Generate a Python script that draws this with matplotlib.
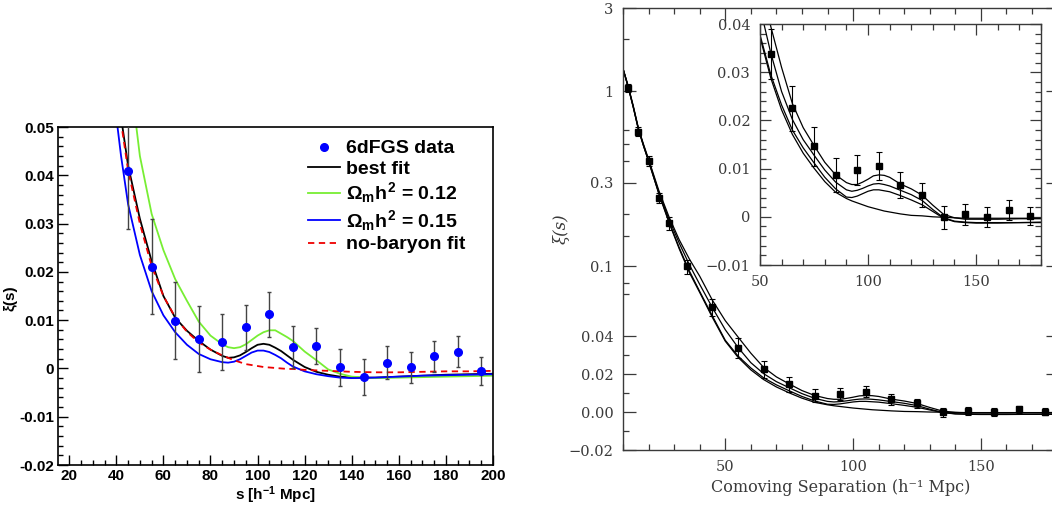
import numpy as np
import matplotlib
matplotlib.use("Agg")
import matplotlib.pyplot as plt
from matplotlib.ticker import FixedLocator, MultipleLocator, NullFormatter
from matplotlib.lines import Line2D

plt.rcParams['mathtext.fontset'] = 'custom'
plt.rcParams['mathtext.rm'] = 'Liberation Sans:bold'
plt.rcParams['mathtext.it'] = 'Liberation Sans:bold'
plt.rcParams['mathtext.bf'] = 'Liberation Sans:bold'

# ---------- left panel: 6dFGS ----------
s_6df = [45, 55, 65, 75, 85, 95, 105, 115, 125, 135, 145, 155, 165, 175, 185, 195]
xi_6df = [0.0408, 0.0211, 0.0099, 0.0061, 0.0055, 0.0085, 0.0112, 0.0044,
          0.0046, 0.0002, -0.0017, 0.0012, 0.0002, 0.0025, 0.0035, -0.0005]
err_6df = [0.012, 0.0098, 0.0079, 0.0068, 0.0058, 0.0047, 0.0047, 0.0043,
           0.0037, 0.0039, 0.0037, 0.0034, 0.0032, 0.0032, 0.0032, 0.0029]

s_fit = [40, 42, 45, 50, 55, 60, 65, 70, 75, 80, 85, 87.5, 90, 92.5, 95, 97.5,
         100, 102.5, 105, 107.5, 110, 112.5, 115, 120, 125, 130, 135, 140, 150,
         160, 170, 180, 190, 200]
best_fit = [0.060, 0.052, 0.042, 0.031, 0.0222, 0.0150, 0.0105, 0.0078, 0.0057,
            0.0039, 0.0026, 0.0022, 0.0023, 0.0027, 0.0034, 0.0042, 0.0049,
            0.0051, 0.0049, 0.0043, 0.0036, 0.0027, 0.0018, 0.0003, -0.0007,
            -0.0013, -0.0017, -0.0019, -0.0019, -0.0017, -0.0015, -0.0013,
            -0.0012, -0.0011]
fit_012 = [0.090, 0.080, 0.064, 0.044, 0.032, 0.0245, 0.0185, 0.0140, 0.0097,
           0.0068, 0.0050, 0.0044, 0.0042, 0.0044, 0.0050, 0.0059, 0.0068,
           0.0075, 0.0079, 0.0079, 0.0072, 0.0065, 0.0057, 0.0035, 0.0017,
           -0.0002, -0.0011, -0.0017, -0.0020, -0.0019, -0.0018, -0.0017,
           -0.0016, -0.0015]
fit_015 = [0.052, 0.044, 0.034, 0.0235, 0.0160, 0.0110, 0.0075, 0.0049, 0.0030,
           0.0019, 0.0013, 0.0012, 0.0014, 0.0019, 0.0026, 0.0033, 0.0037,
           0.0037, 0.0034, 0.0028, 0.0021, 0.0012, 0.0004, -0.0006, -0.0012,
           -0.0016, -0.0019, -0.0020, -0.0019, -0.0017, -0.0015, -0.0014,
           -0.0013, -0.0012]
no_baryon = [0.058, 0.051, 0.041, 0.030, 0.0212, 0.0150, 0.0106, 0.0076, 0.0054,
             0.0039, 0.0027, 0.0022, 0.0017, 0.0013, 0.0009, 0.0007, 0.0005,
             0.0003, 0.0002, 0.0001, 0.0000, -0.0001, -0.0001, -0.0003, -0.0004,
             -0.0005, -0.0006, -0.0007, -0.0008, -0.0008, -0.0007, -0.0006,
             -0.0006, -0.0005]

# ---------- right panel: SDSS LRG ----------
s_lrg = [12, 16, 20, 24, 28, 35, 45, 55, 65, 75, 85, 95, 105, 115, 125, 135,
         145, 155, 165, 175]
xi_lrg = [1.05, 0.59, 0.40, 0.247, 0.176, 0.100, 0.0587, 0.0337, 0.0225, 0.0146,
          0.0086, 0.0097, 0.0106, 0.0066, 0.0046, -0.0001, 0.0005, 0.0, 0.0014,
          0.0001]
err_lrg = [0.056, 0.033, 0.026, 0.017, 0.015, 0.009, 0.0064, 0.0052, 0.0046,
           0.004, 0.0035, 0.0032, 0.0029, 0.0028, 0.0025, 0.0024, 0.0022,
           0.0021, 0.002, 0.0019]

s_mod = [10, 12, 14, 16, 18, 20, 24, 28, 32, 36, 40, 45, 50, 55, 60, 65, 70, 75,
         80, 85, 90, 92.5, 95, 97.5, 100, 102.5, 105, 107.5, 110, 115, 120, 125,
         130, 135, 140, 145, 150, 160, 170, 180]
mod_a = [1.35, 1.08, 0.83, 0.62, 0.50, 0.41, 0.272, 0.192, 0.142, 0.110, 0.088,
         0.064, 0.049, 0.0395, 0.031, 0.0235, 0.0185, 0.0148, 0.0113, 0.0087,
         0.0071, 0.0067, 0.0067, 0.0072, 0.0078, 0.0085, 0.0087, 0.0086, 0.0082,
         0.0068, 0.0058, 0.0045, 0.0024, 0.0005, -0.0002, -0.0005, -0.0005,
         -0.0005, -0.0004, -0.0004]
mod_b = [1.35, 1.07, 0.82, 0.615, 0.495, 0.405, 0.266, 0.186, 0.136, 0.102, 0.079,
         0.058, 0.0435, 0.034, 0.026, 0.0202, 0.016, 0.0128, 0.0097, 0.0072,
         0.0056, 0.0053, 0.0055, 0.0059, 0.0064, 0.0068, 0.0069, 0.0067, 0.0064,
         0.0055, 0.0046, 0.0034, 0.0015, -0.0002, -0.0009, -0.0011, -0.0012,
         -0.0012, -0.0012, -0.0011]
mod_c = [1.35, 1.065, 0.815, 0.61, 0.49, 0.40, 0.262, 0.18, 0.128, 0.094, 0.072,
         0.052, 0.0378, 0.0295, 0.0232, 0.018, 0.0143, 0.0112, 0.0082, 0.0058,
         0.0041, 0.0040, 0.0043, 0.0048, 0.0053, 0.0056, 0.0056, 0.0054, 0.0052,
         0.0044, 0.0035, 0.0025, 0.0011, -0.0003, -0.001, -0.0012, -0.0013,
         -0.0013, -0.0012, -0.0012]
mod_d = [1.35, 1.065, 0.815, 0.61, 0.49, 0.40, 0.261, 0.178, 0.126, 0.092, 0.071,
         0.051, 0.0373, 0.0288, 0.0222, 0.0171, 0.0132, 0.0101, 0.0073, 0.0051,
         0.0038, 0.0033, 0.0029, 0.0025, 0.0021, 0.0018, 0.0015, 0.0012, 0.0010,
         0.0006, 0.0003, 0.0002, 0.0, -0.0001, -0.0002, -0.0003, -0.0003,
         -0.0003, -0.0003, -0.0003]

main_yticks = [-0.02, 0.0, 0.02, 0.04, 0.1, 0.3, 1, 3]
main_ylabels = ['\u22120.02', '0.00', '0.02', '0.04', '0.1', '0.3', '1', '3']
main_yminor = [-0.01, 0.01, 0.03, 0.07, 0.08, 0.15, 0.2, 0.4, 0.5, 0.6, 2]
inset_ylabels = ['\u22120.01', '0', '0.01', '0.02', '0.03', '0.04']


# y axis: linear below 0.04, logarithmic above
def fwd(y):
    y = np.asarray(y, dtype=float)
    return np.where(y < 0.04, y / 0.04, 1 + np.log(np.maximum(y, 0.04) / 0.04))


def inv(t):
    t = np.asarray(t, dtype=float)
    return np.where(t < 1, 0.04 * t, 0.04 * np.exp(np.minimum(t, 50) - 1))


fig = plt.figure(figsize=(10.52, 5.07), dpi=100)

# ==============================
# left panel
# ==============================
ax = fig.add_axes([0.0551, 0.0828, 0.4135, 0.6667])
ax.plot(s_fit, best_fit, color='black', lw=1.3)
ax.plot(s_fit, fit_012, color='#77ee33', lw=1.3)
ax.plot(s_fit, fit_015, color='#0000ff', lw=1.3)
ax.plot(s_fit, no_baryon, color='#ee0000', lw=1.3, ls=(0, (3.5, 2.5)))
ax.errorbar(s_6df, xi_6df, yerr=err_6df, fmt='o', color='#0000ff', ms=5.5,
            ecolor='#444444', elinewidth=1.0, capsize=1.5, capthick=1.0, zorder=5)
ax.set_xlim(15.2, 200)
ax.set_ylim(-0.02, 0.05)
ax.xaxis.set_major_locator(MultipleLocator(20))
ax.xaxis.set_minor_locator(MultipleLocator(5))
ax.yaxis.set_minor_locator(MultipleLocator(0.002))
ax.set_yticks([-0.02, -0.01, 0, 0.01, 0.02, 0.03, 0.04, 0.05])
ax.set_yticklabels(['-0.02', '-0.01', '0', '0.01', '0.02', '0.03', '0.04', '0.05'])
ax.tick_params(which='both', direction='in', top=False, right=False,
               labelsize=11, pad=3)
ax.tick_params(which='major', length=7, width=1)
ax.tick_params(which='minor', length=3.5, width=1)
for lab in ax.get_xticklabels() + ax.get_yticklabels():
    lab.set_fontweight('bold')
    lab.set_family('Liberation Sans')
for sp in ax.spines.values():
    sp.set_linewidth(1.2)
ax.set_xlabel('s [h$^{-1}$ Mpc]', fontsize=11, fontweight='bold',
              family='Liberation Sans', labelpad=1)
ax.set_ylabel('\u03be(s)', fontsize=11, fontweight='bold', family='Liberation Sans')
ax.yaxis.set_label_coords(-0.094, 0.494)

handles = [
    Line2D([], [], ls='none', marker='o', color='#0000ff', ms=5.5),
    Line2D([], [], color='black', lw=1.3),
    Line2D([], [], color='#77ee33', lw=1.3),
    Line2D([], [], color='#0000ff', lw=1.3),
    Line2D([], [], color='#ee0000', lw=1.3, ls=(0, (3.5, 2.5))),
]
labels = ['6dFGS data', 'best fit', r'$\Omega_m h^2$ = 0.12',
          r'$\Omega_m h^2$ = 0.15', 'no-baryon fit']
leg = ax.legend(handles, labels, loc='upper left', bbox_to_anchor=(0.574, 0.962),
                frameon=False, handlelength=1.65, handletextpad=0.3,
                labelspacing=0.14, borderpad=0, borderaxespad=0,
                prop={'family': 'Liberation Sans', 'weight': 'bold', 'size': 14})

# ==============================
# right panel
# ==============================
gray = '#3a3a3a'
serif = 'DejaVu Serif'
ax2 = fig.add_axes([0.5922, 0.1124, 0.4131, 0.8718])
ax2.set_yscale('function', functions=(fwd, inv))
for m in (mod_a, mod_b, mod_c, mod_d):
    ax2.plot(s_mod, m, color='black', lw=0.9)
ax2.errorbar(s_lrg, xi_lrg, yerr=err_lrg, fmt='s', color='black', ms=4,
             elinewidth=0.8, capsize=2.5, capthick=0.8, zorder=5)
ax2.set_xlim(10, 180)
ax2.set_ylim(-0.02, 3)
ax2.xaxis.set_major_locator(MultipleLocator(50))
ax2.xaxis.set_minor_locator(MultipleLocator(10))
ax2.yaxis.set_major_locator(FixedLocator(main_yticks))
ax2.yaxis.set_minor_locator(FixedLocator(main_yminor))
ax2.yaxis.set_minor_formatter(NullFormatter())
ax2.set_yticklabels(main_ylabels)
ax2.tick_params(which='both', direction='in', top=True, right=True,
                labelsize=10.5, labelcolor=gray, color=gray, pad=7)
ax2.tick_params(which='major', length=9, width=0.9)
ax2.tick_params(which='minor', length=4.5, width=0.9)
for lab in ax2.get_xticklabels() + ax2.get_yticklabels():
    lab.set_family(serif)
for sp in ax2.spines.values():
    sp.set_linewidth(1.0)
    sp.set_color(gray)
ax2.set_xlabel('Comoving Separation (h\u207b\u00b9 Mpc)', fontsize=11.5,
               family=serif, color=gray, labelpad=4)
ax2.set_ylabel('\u03be(s)', fontsize=12, family=serif, color=gray, style='italic')
ax2.yaxis.set_label_coords(-0.122, 0.50)

# inset
ax3 = fig.add_axes([0.7224, 0.4773, 0.2671, 0.4753])
for m in (mod_a, mod_b, mod_c, mod_d):
    ax3.plot(s_mod, m, color='black', lw=0.9)
ax3.errorbar(s_lrg, xi_lrg, yerr=err_lrg, fmt='s', color='black', ms=4,
             elinewidth=0.8, capsize=2.5, capthick=0.8, zorder=5)
ax3.set_xlim(50, 180)
ax3.set_ylim(-0.01, 0.04)
ax3.xaxis.set_major_locator(MultipleLocator(50))
ax3.xaxis.set_minor_locator(MultipleLocator(10))
ax3.set_yticks([-0.01, 0, 0.01, 0.02, 0.03, 0.04])
ax3.set_yticklabels(inset_ylabels)
ax3.yaxis.set_minor_locator(MultipleLocator(0.002))
ax3.tick_params(which='both', direction='in', top=True, right=True,
                labelsize=10.5, labelcolor=gray, color=gray, pad=7)
ax3.tick_params(which='major', length=8, width=0.9)
ax3.tick_params(which='minor', length=4, width=0.9)
for lab in ax3.get_xticklabels() + ax3.get_yticklabels():
    lab.set_family(serif)
for sp in ax3.spines.values():
    sp.set_linewidth(1.0)
    sp.set_color(gray)

fig.savefig('out.png', dpi=100)
